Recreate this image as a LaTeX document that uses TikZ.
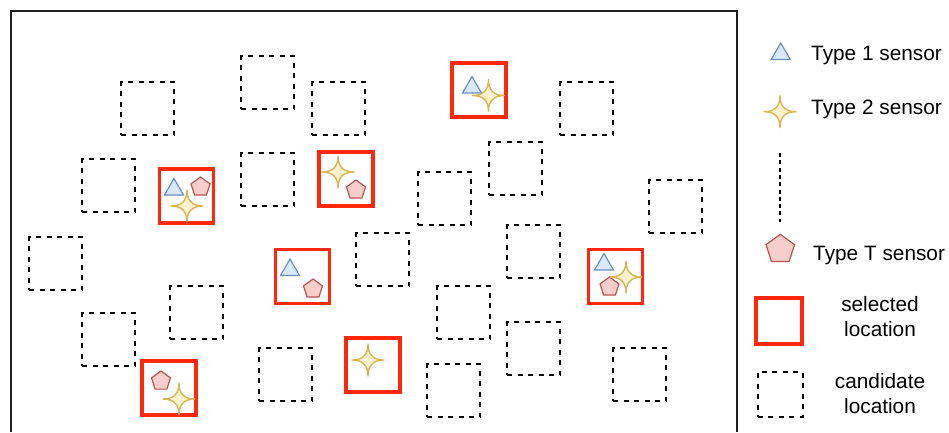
\documentclass[tikz,border=0pt]{standalone}
\usepackage{fontspec}
\setmainfont{Liberation Sans}
\usetikzlibrary{shapes.geometric}

\definecolor{selred}{RGB}{255,40,10}
\definecolor{triblue}{HTML}{DAE8FC}
\definecolor{triedge}{HTML}{6C8EBF}
\definecolor{pentred}{HTML}{F8CECC}
\definecolor{pentedge}{HTML}{B85450}
\definecolor{staryel}{HTML}{FFF2CC}
\definecolor{staredge}{HTML}{D6B656}

\tikzset{
  sparkle/.pic={
    \draw[line width=1.4pt, draw=staredge, fill=staryel, line join=round]
      (0,16) .. controls (0,5.3) and (5.3,0) .. (16,0)
      .. controls (5.3,0) and (0,-5.3) .. (0,-16)
      .. controls (0,-5.3) and (-5.3,0) .. (-16,0)
      .. controls (-5.3,0) and (0,5.3) .. cycle;
  }
}

\begin{document}
\begin{tikzpicture}[x=1pt,y=-1pt,
  cand/.style={draw, dash pattern=on 5pt off 5.5pt, line width=2pt, minimum size=53pt, inner sep=0pt},
  sel/.style={draw=selred, line width=3.2pt, minimum size=54pt, inner sep=0pt},
  tri/.style={regular polygon, regular polygon sides=3, draw=triedge, fill=triblue, line width=1.2pt, minimum size=22pt, inner sep=0pt},
  pent/.style={regular polygon, regular polygon sides=5, draw=pentedge, fill=pentred, line width=1.2pt, minimum size=20pt, inner sep=0pt},
  legtext/.style={font=\fontsize{20.8}{25}\selectfont, inner sep=0pt}]
\useasboundingbox (0,0) rectangle (949,432);

% frame, open at the bottom
\draw[line width=2pt, black!88] (11,432) |- (737,11) -- (737,432);

% candidate locations
\node[cand] (c1) at (147.5,108.5) {};
\node[cand] (c2) at (267.5,82.5) {};
\node[cand] (c3) at (338.5,108.5) {};
\node[cand] (c4) at (586.5,108.5) {};
\node[cand] (c5) at (108.5,185.5) {};
\node[cand] (c6) at (267.5,179.5) {};
\node[cand] (c7) at (444.5,198.5) {};
\node[cand] (c8) at (515.5,168.5) {};
\node[cand] (c9) at (675.5,206.5) {};
\node[cand] (c10) at (55.5,263.5) {};
\node[cand] (c11) at (382.5,259.5) {};
\node[cand] (c12) at (533.5,251.5) {};
\node[cand] (c13) at (196.5,312.5) {};
\node[cand] (c14) at (463.5,312.5) {};
\node[cand] (c15) at (108.5,339.5) {};
\node[cand] (c16) at (533.5,348.5) {};
\node[cand] (c17) at (285.5,374.5) {};
\node[cand] (c18) at (453.5,390.5) {};
\node[cand] (c19) at (639.5,374.5) {};

% selected locations
\node[sel] (sa) at (186.5,196) {};
\node[sel] (sb) at (479,90) {};
\node[sel] (sc) at (346,179) {};
\node[sel] (sd) at (302.5,276.5) {};
\node[sel] (se) at (615.5,276.5) {};
\node[sel] (sf) at (373,365) {};
\node[sel] (sg) at (169,388) {};

% type 1 sensors
\node[tri] (ta) at (174,189.5) {};
\node[tri] (tb) at (472,87.5) {};
\node[tri] (td) at (290,270) {};
\node[tri] (te) at (604,264.5) {};

% type T sensors
\node[pent] (pa) at (200.5,187) {};
\node[pent] (pc) at (356,190) {};
\node[pent] (pd) at (313,289) {};
\node[pent] (pe) at (609.5,287) {};
\node[pent] (pg) at (161,381) {};

% type 2 sensors
\pic (xa) at (187,206) {sparkle};
\pic (xb) at (488.5,95.5) {sparkle};
\pic (xc) at (338,172) {sparkle};
\pic (xe) at (626,277) {sparkle};
\pic (xf) at (368,360) {sparkle};
\pic (xg) at (179,399) {sparkle};

% legend
\node[tri] (ltri) at (780.7,54) {};
\node[legtext, anchor=base west] (ltype1) at (811,60) {Type 1 sensor};
\pic (lstar) at (780,111.7) {sparkle};
\node[legtext, anchor=base west] (ltype2) at (811,114) {Type 2 sensor};
\coordinate (dots top) at (780,153);
\coordinate (dots bot) at (780,222);
\draw[line width=1.5pt, dash pattern=on 4pt off 3.3pt] (dots top) -- (dots bot);
\node[pent, minimum size=30pt] (lpent) at (780.3,249.3) {};
\node[legtext, anchor=base west] (ltypeT) at (813,260) {Type T sensor};
\node[sel, minimum size=46pt] (lsel) at (779,321) {};
\node[legtext, align=center, anchor=base] (lseltext) at (880,336.7) {selected\\location};
\node[cand, minimum size=45pt] (lcand) at (780,394) {};
\node[legtext, align=center, anchor=base] (lcandtext) at (880,413) {candidate\\location};
\end{tikzpicture}
\end{document}
